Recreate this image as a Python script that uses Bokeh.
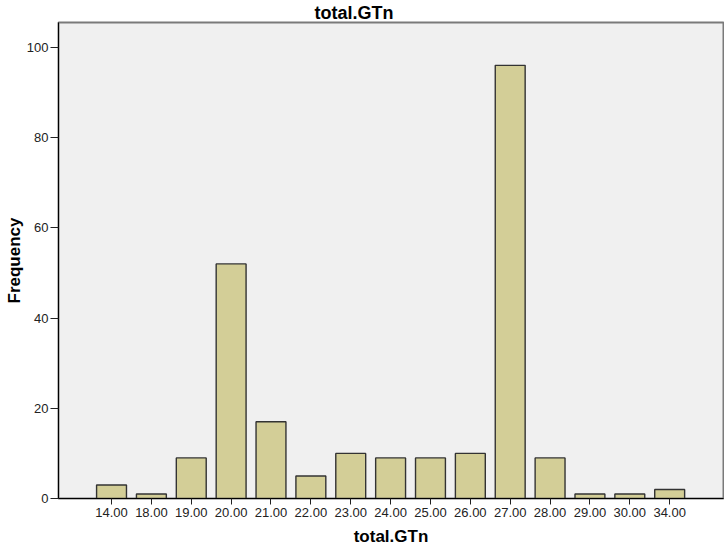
from bokeh.plotting import figure
from bokeh.models import Range1d, FixedTicker, ColumnDataSource
from bokeh.embed import file_html
from bokeh.resources import INLINE

categories = ["14.00", "18.00", "19.00", "20.00", "21.00", "22.00", "23.00", "24.00",
              "25.00", "26.00", "27.00", "28.00", "29.00", "30.00", "34.00"]
counts = [3, 1, 9, 52, 17, 5, 10, 9, 9, 10, 96, 9, 1, 1, 2]
y_ticks = [0, 20, 40, 60, 80, 100]

FONT = "Liberation Sans"

xpos = list(range(len(categories)))
src = ColumnDataSource(dict(x=xpos, count=counts, label=categories))

p = figure(width=724, height=548, output_backend="svg", toolbar_location=None,
           title="total.GTn",
           x_range=Range1d(-1.33, 15.35), y_range=Range1d(0, 105.5),
           min_border_left=58, min_border_right=1, min_border_top=22, min_border_bottom=50)

p.title.align = "left"
p.title.text_font = FONT
p.title.text_font_size = "18px"
p.title.text_font_style = "bold"
p.title.text_color = "black"
p.title.standoff = 0
p.title.offset = 256

p.background_fill_color = "#f0f0f0"
p.border_fill_color = "white"
p.outline_line_color = "#7a7a7a"
p.outline_line_width = 2
p.xgrid.visible = False
p.ygrid.visible = False

p.vbar(x="x", top="count", width=0.75, bottom=0, source=src,
       fill_color="#d3ce97", line_color="#333333", line_width=1.4)

# x axis
p.xaxis.ticker = FixedTicker(ticks=xpos)
p.xaxis.major_label_overrides = {i: c for i, c in enumerate(categories)}
p.xaxis.minor_tick_line_color = None
p.xaxis.major_tick_in = 0
p.xaxis.major_tick_out = 6
p.xaxis.major_label_standoff = 3
p.xaxis.axis_line_color = "black"
p.xaxis.major_tick_line_color = "#222222"
p.xaxis.major_label_text_font = FONT
p.xaxis.major_label_text_font_size = "13px"
p.xaxis.major_label_text_color = "#222222"
p.xaxis.axis_label = "total.GTn"
p.xaxis.axis_label_standoff = 7
p.xaxis.axis_label_text_font = FONT
p.xaxis.axis_label_text_font_size = "17px"
p.xaxis.axis_label_text_font_style = "bold"
p.xaxis.axis_label_text_color = "black"

# y axis
p.yaxis.ticker = FixedTicker(ticks=y_ticks)
p.yaxis.minor_tick_line_color = None
p.yaxis.major_tick_in = 0
p.yaxis.major_tick_out = 8
p.yaxis.major_label_standoff = 2
p.yaxis.axis_line_color = "black"
p.yaxis.major_tick_line_color = "#222222"
p.yaxis.major_label_text_font = FONT
p.yaxis.major_label_text_font_size = "13px"
p.yaxis.major_label_text_color = "#222222"
p.yaxis.axis_label = "Frequency"
p.yaxis.axis_label_standoff = 0
p.yaxis.axis_label_text_font = FONT
p.yaxis.axis_label_text_font_size = "17px"
p.yaxis.axis_label_text_font_style = "bold"
p.yaxis.axis_label_text_color = "black"

open("out.html", "w").write(file_html(p, INLINE))
